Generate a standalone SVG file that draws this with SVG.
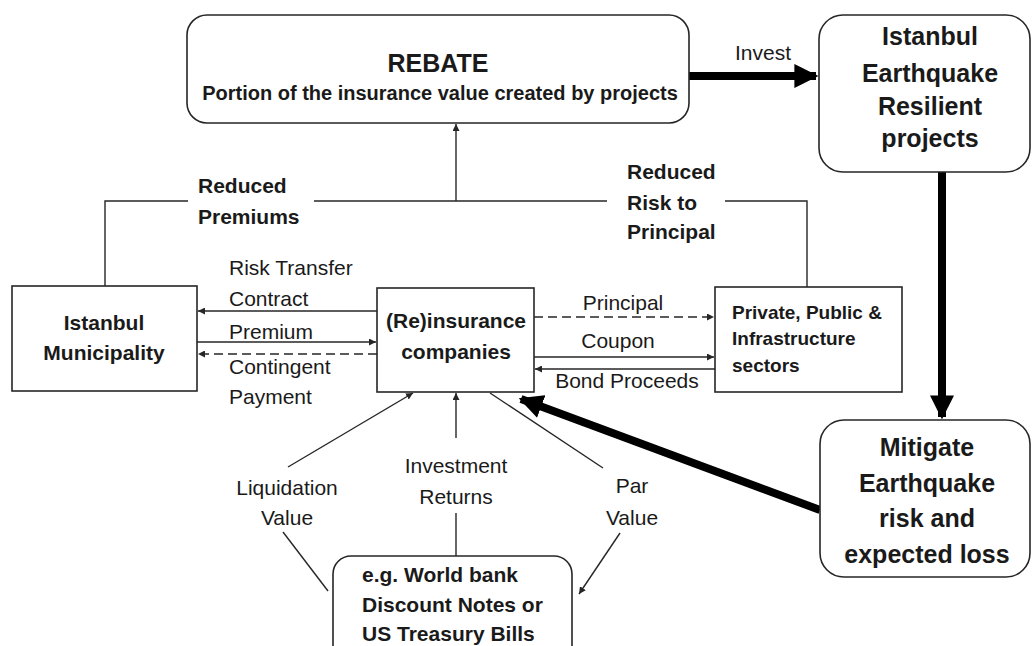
<svg xmlns="http://www.w3.org/2000/svg" width="1032" height="646" viewBox="0 0 1032 646">
<style>
.box{fill:#fff;stroke:#262626;stroke-width:1.6}
.t{font-family:"Liberation Sans",Arial,sans-serif;fill:#1a1a1a}
.b{font-weight:bold}
.r{font-size:21px}
.c{text-anchor:middle}
.ln{fill:none;stroke:#262626;stroke-width:1.4}
.dash{stroke-dasharray:9 5}
.thick{fill:none;stroke:#000;stroke-width:8}
</style>
<defs>
<marker id="ah" viewBox="0 0 10 10" refX="10" refY="5" markerWidth="7" markerHeight="7" markerUnits="userSpaceOnUse" orient="auto">
<path d="M0,0 L10,5 L0,10 z" fill="#262626"/>
</marker>
<marker id="big" viewBox="0 0 10 10" refX="9" refY="5" markerWidth="3" markerHeight="3" orient="auto">
<path d="M0,0 L10,5 L0,10 z" fill="#000"/>
</marker>
</defs>

<g id="connectors">
<line class="thick" x1="689" y1="76" x2="816" y2="76" stroke-width="7" marker-end="url(#big)"/>
<line class="thick" x1="942" y1="172" x2="942" y2="417" marker-end="url(#big)"/>
<line class="thick" x1="820" y1="510" x2="521" y2="399" marker-end="url(#big)"/>
<polyline class="ln" points="105,286 105,201 188,201"/>
<line class="ln" x1="314" y1="201" x2="607" y2="201"/>
<polyline class="ln" points="725,201 807,201 807,287"/>
<line class="ln" x1="456" y1="201" x2="456" y2="124" marker-end="url(#ah)"/>
<line class="ln" x1="377" y1="311" x2="198" y2="311" marker-end="url(#ah)"/>
<line class="ln" x1="197" y1="342" x2="376" y2="342" marker-end="url(#ah)"/>
<line class="ln dash" x1="377" y1="354" x2="198" y2="354" marker-end="url(#ah)"/>
<line class="ln dash" x1="534" y1="317" x2="714" y2="317" marker-end="url(#ah)"/>
<line class="ln" x1="534" y1="357" x2="714" y2="357" marker-end="url(#ah)"/>
<line class="ln" x1="715" y1="369" x2="535" y2="369" marker-end="url(#ah)"/>
<line class="ln" x1="456" y1="556" x2="456" y2="513"/>
<line class="ln" x1="456" y1="438" x2="456" y2="393" marker-end="url(#ah)"/>
<line class="ln" x1="328" y1="591" x2="283" y2="532"/>
<line class="ln" x1="288" y1="467" x2="413" y2="393" marker-end="url(#ah)"/>
<line class="ln" x1="490" y1="393" x2="603" y2="468"/>
<line class="ln" x1="620" y1="533" x2="579" y2="594" marker-end="url(#ah)"/>
<text class="t r c" x="763" y="60">Invest</text>
<text class="t b" font-size="21" x="198" y="193">Reduced</text>
<text class="t b" font-size="21" x="198" y="224">Premiums</text>
<text class="t b" font-size="21" x="627" y="179">Reduced</text>
<text class="t b" font-size="21" x="627" y="210">Risk to</text>
<text class="t b" font-size="21" x="627" y="239">Principal</text>
<text class="t r" x="229" y="275">Risk Transfer</text>
<text class="t r" x="229" y="306">Contract</text>
<text class="t r" x="229" y="339">Premium</text>
<text class="t r" x="229" y="374">Contingent</text>
<text class="t r" x="229" y="404">Payment</text>
<text class="t r c" x="623" y="310">Principal</text>
<text class="t r c" x="618" y="348">Coupon</text>
<text class="t r c" x="627" y="388">Bond Proceeds</text>
<text class="t r c" x="456" y="473">Investment</text>
<text class="t r c" x="456" y="504">Returns</text>
<text class="t r c" x="287" y="495">Liquidation</text>
<text class="t r c" x="287" y="525">Value</text>
<text class="t r c" x="632" y="493">Par</text>
<text class="t r c" x="632" y="525">Value</text>
</g>

<g id="rebate">
<rect class="box" x="187" y="15" width="502" height="108" rx="20"/>
<text class="t b c" font-size="25" x="438" y="72">REBATE</text>
<text class="t b c" font-size="20" x="440" y="100">Portion of the insurance value created by projects</text>
</g>

<g id="resilient">
<rect class="box" x="819" y="15" width="211" height="157" rx="24"/>
<text class="t b c" font-size="25" x="930" y="45">Istanbul</text>
<text class="t b c" font-size="25" x="930" y="82">Earthquake</text>
<text class="t b c" font-size="25" x="930" y="115">Resilient</text>
<text class="t b c" font-size="25" x="930" y="147">projects</text>
</g>

<g id="municipality">
<rect class="box" x="12" y="286" width="185" height="105"/>
<text class="t b c" font-size="21" x="104" y="330">Istanbul</text>
<text class="t b c" font-size="21" x="104" y="360">Municipality</text>
</g>

<g id="reinsurance">
<rect class="box" x="377" y="288" width="157" height="104"/>
<text class="t b c" font-size="21" x="456" y="328">(Re)insurance</text>
<text class="t b c" font-size="21" x="456" y="359">companies</text>
</g>

<g id="sectors">
<rect class="box" x="715" y="287" width="187" height="105"/>
<text class="t b" font-size="19" x="732" y="319">Private, Public &amp;</text>
<text class="t b" font-size="19" x="732" y="345">Infrastructure</text>
<text class="t b" font-size="19" x="732" y="372">sectors</text>
</g>

<g id="bills">
<rect class="box" x="333" y="556" width="239" height="110" rx="18"/>
<text class="t b" font-size="21" x="362" y="582">e.g. World bank</text>
<text class="t b" font-size="21" x="362" y="612">Discount Notes or</text>
<text class="t b" font-size="21" x="362" y="641">US Treasury Bills</text>
</g>

<g id="mitigate">
<rect class="box" x="820" y="420" width="210" height="157" rx="24"/>
<text class="t b c" font-size="25" x="927" y="456">Mitigate</text>
<text class="t b c" font-size="25" x="927" y="492">Earthquake</text>
<text class="t b c" font-size="25" x="927" y="527">risk and</text>
<text class="t b c" font-size="25" x="927" y="563">expected loss</text>
</g>
</svg>
